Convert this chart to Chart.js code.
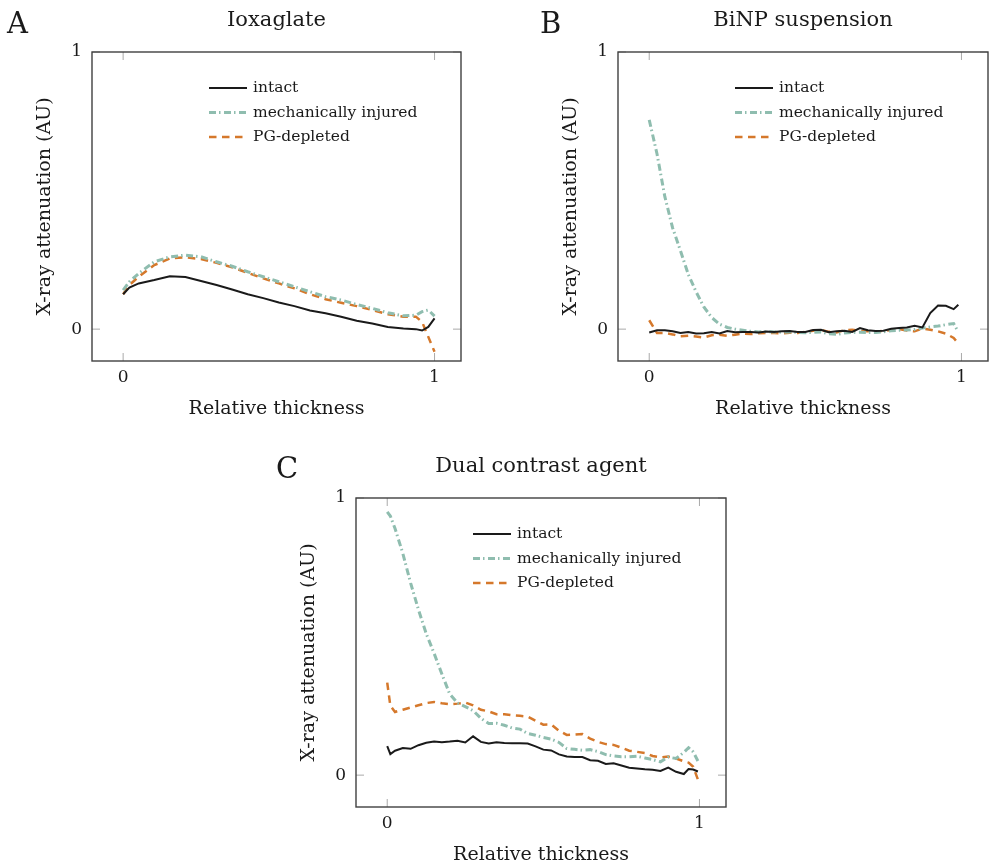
<!DOCTYPE html>
<html>
<head>
<meta charset="utf-8">
<script src="https://cdn.jsdelivr.net/npm/chart.js@4.4.1/dist/chart.umd.min.js"></script>
<style>
  body { margin: 0; width: 990px; height: 867px; overflow: hidden; background: #fff; position: relative; }
  canvas { position: absolute; }
</style>
</head>
<body>
<canvas id="chartA" width="490" height="430" style="left:0;top:0"></canvas>
<canvas id="chartB" width="464" height="430" style="left:526px;top:0"></canvas>
<canvas id="chartC" width="490" height="430" style="left:264px;top:446px"></canvas>
<script>
// ---- data ----
const seriesLabels = ["intact", "mechanically injured", "PG-depleted"];
const xTicks = [0, 1];
const yTicks = [0, 1];

// A: Ioxaglate
const ioxX = [0, 0.02, 0.05, 0.1, 0.15, 0.2, 0.25, 0.3, 0.35, 0.4, 0.45, 0.5, 0.55, 0.6, 0.65, 0.7, 0.75, 0.8, 0.85, 0.9, 0.94, 0.96, 0.98, 1.0];
const ioxIntact = [0.126, 0.150, 0.165, 0.177, 0.191, 0.188, 0.174, 0.159, 0.143, 0.126, 0.112, 0.096, 0.083, 0.067, 0.057, 0.045, 0.030, 0.020, 0.008, 0.002, 0.000, -0.005, 0.008, 0.039];
const ioxInjured = [0.141, 0.171, 0.201, 0.243, 0.261, 0.267, 0.261, 0.243, 0.227, 0.207, 0.189, 0.171, 0.153, 0.135, 0.117, 0.105, 0.089, 0.075, 0.059, 0.048, 0.050, 0.063, 0.069, 0.047];
const ioxDepleted = [0.126, 0.159, 0.189, 0.231, 0.255, 0.259, 0.253, 0.239, 0.223, 0.203, 0.183, 0.165, 0.147, 0.126, 0.108, 0.095, 0.083, 0.069, 0.054, 0.045, 0.045, 0.026, -0.028, -0.082];

// B: BiNP suspension
const binpX = [0, 0.025, 0.05, 0.075, 0.1, 0.125, 0.15, 0.175, 0.2, 0.225, 0.25, 0.275, 0.3, 0.325, 0.35, 0.375, 0.4, 0.425, 0.45, 0.475, 0.5,
  0.525, 0.55, 0.575, 0.6, 0.625, 0.65, 0.675, 0.7, 0.725, 0.75, 0.775, 0.8, 0.825, 0.85, 0.875, 0.9, 0.925, 0.95, 0.975, 0.99];
const binpIntact = [-0.012, -0.004, -0.004, -0.008, -0.014, -0.010, -0.016, -0.015, -0.010, -0.016, -0.007, -0.011, -0.010, -0.010, -0.012, -0.009, -0.010, -0.008, -0.007, -0.010, -0.010,
  -0.003, -0.002, -0.011, -0.008, -0.006, -0.010, 0.004, -0.004, -0.007, -0.006, 0.001, 0.004, 0.006, 0.012, 0.006, 0.058, 0.085, 0.084, 0.072, 0.088];
const binpInjured = [0.755, 0.632, 0.478, 0.365, 0.283, 0.198, 0.135, 0.080, 0.042, 0.018, 0.006, 0.000, -0.004, -0.008, -0.010, -0.009, -0.010, -0.011, -0.010, -0.012, -0.013,
  -0.012, -0.010, -0.017, -0.019, -0.014, -0.012, -0.011, -0.012, -0.012, -0.010, -0.006, -0.004, -0.003, -0.001, 0.004, 0.008, 0.011, 0.016, 0.020, -0.010];
const binpDepleted = [0.032, -0.014, -0.014, -0.019, -0.026, -0.024, -0.027, -0.030, -0.022, -0.020, -0.024, -0.020, -0.016, -0.018, -0.015, -0.014, -0.014, -0.015, -0.013, -0.014, -0.010,
  -0.006, -0.004, -0.009, -0.012, -0.004, -0.002, -0.006, -0.008, -0.009, -0.006, -0.004, 0.000, -0.005, -0.008, 0.002, -0.002, -0.008, -0.016, -0.032, -0.052];

// C: Dual contrast agent
const dualX = [0, 0.01, 0.025, 0.05, 0.075, 0.1, 0.125, 0.15, 0.175, 0.2, 0.225, 0.25, 0.275, 0.3, 0.325, 0.35, 0.375, 0.4, 0.425, 0.45, 0.475, 0.5,
  0.525, 0.55, 0.575, 0.6, 0.625, 0.65, 0.675, 0.7, 0.725, 0.75, 0.775, 0.8, 0.825, 0.85, 0.875, 0.9, 0.925, 0.95, 0.965, 0.98, 0.995];
const dualIntact = [0.105, 0.076, 0.088, 0.098, 0.095, 0.108, 0.117, 0.121, 0.119, 0.121, 0.124, 0.118, 0.140, 0.120, 0.114, 0.119, 0.116, 0.115, 0.115, 0.114, 0.104, 0.092,
  0.089, 0.075, 0.067, 0.065, 0.065, 0.054, 0.052, 0.040, 0.043, 0.035, 0.027, 0.024, 0.021, 0.019, 0.015, 0.027, 0.012, 0.004, 0.022, 0.020, 0.013];
const dualInjured = [0.950, 0.935, 0.890, 0.800, 0.693, 0.597, 0.510, 0.440, 0.365, 0.293, 0.260, 0.247, 0.233, 0.205, 0.186, 0.187, 0.180, 0.170, 0.166, 0.150, 0.144, 0.136,
  0.130, 0.118, 0.096, 0.093, 0.090, 0.092, 0.085, 0.074, 0.069, 0.066, 0.066, 0.068, 0.062, 0.056, 0.048, 0.065, 0.060, 0.082, 0.099, 0.084, 0.051];
const dualDepleted = [0.334, 0.250, 0.228, 0.236, 0.244, 0.252, 0.260, 0.264, 0.259, 0.256, 0.258, 0.262, 0.252, 0.236, 0.230, 0.220, 0.220, 0.216, 0.214, 0.211, 0.196, 0.182,
  0.183, 0.160, 0.145, 0.146, 0.148, 0.132, 0.120, 0.112, 0.109, 0.099, 0.088, 0.084, 0.080, 0.069, 0.064, 0.067, 0.060, 0.050, 0.045, 0.030, -0.016];

// ---- styling ----
const FONT = "'DejaVu Serif', serif";
const TEXT = "#1a1a1a";
const styles = [
  { borderColor: "#1a1a1a", borderWidth: 2, borderDash: [] },
  { borderColor: "#8fbdaf", borderWidth: 3, borderDash: [7, 3, 1.5, 3.5] },
  { borderColor: "#d5782b", borderWidth: 2.5, borderDash: [7.5, 5.5] },
];

const pts = (xs, ys) => xs.map((x, i) => ({ x: x, y: ys[i] }));

// box around the plot with little inward ticks, like pgfplots
const framePlugin = {
  id: "frame",
  afterDatasetsDraw(chart) {
    const { ctx, chartArea: a, scales } = chart;
    ctx.save();
    ctx.strokeStyle = "#aaaaaa";
    ctx.lineWidth = 1;
    const t = 8;
    xTicks.forEach((v) => {
      const px = scales.x.getPixelForValue(v);
      ctx.beginPath();
      ctx.moveTo(px, a.bottom); ctx.lineTo(px, a.bottom - t);
      ctx.moveTo(px, a.top); ctx.lineTo(px, a.top + t);
      ctx.stroke();
    });
    yTicks.forEach((v) => {
      const py = scales.y.getPixelForValue(v);
      ctx.beginPath();
      ctx.moveTo(a.left, py); ctx.lineTo(a.left + t, py);
      ctx.moveTo(a.right, py); ctx.lineTo(a.right - t, py);
      ctx.stroke();
    });
    ctx.strokeStyle = "#404040";
    ctx.lineWidth = 1.4;
    ctx.strokeRect(a.left, a.top, a.right - a.left, a.bottom - a.top);
    ctx.restore();
  },
};

// legend drawn inside the plot area, no box
const innerLegend = {
  id: "innerLegend",
  afterDraw(chart) {
    const { ctx, chartArea: a } = chart;
    ctx.save();
    ctx.font = "15.5px " + FONT;
    ctx.textBaseline = "middle";
    ctx.fillStyle = TEXT;
    chart.data.datasets.forEach((ds, i) => {
      const y = a.top + 36 + i * 24.5;
      const x0 = a.left + 117;
      ctx.beginPath();
      ctx.strokeStyle = ds.borderColor;
      ctx.lineWidth = ds.borderWidth;
      ctx.setLineDash(ds.borderDash);
      ctx.moveTo(x0, y);
      ctx.lineTo(x0 + 38, y);
      ctx.stroke();
      ctx.setLineDash([]);
      ctx.fillText(ds.label, x0 + 44, y);
    });
    ctx.restore();
  },
};

const panelLetter = {
  id: "panelLetter",
  afterDraw(chart, args, opts) {
    const ctx = chart.ctx;
    ctx.save();
    ctx.font = "29px " + FONT;
    ctx.fillStyle = TEXT;
    ctx.textBaseline = "alphabetic";
    ctx.fillText(opts.text, opts.x, opts.y);
    ctx.restore();
  },
};

function makePanel(id, title, letter, xs, ys, padRight) {
  const datasets = ys.map((vals, i) => ({
    label: seriesLabels[i],
    data: pts(xs, vals),
    borderColor: styles[i].borderColor,
    borderWidth: styles[i].borderWidth,
    borderDash: styles[i].borderDash,
    pointRadius: 0,
    tension: 0,
    fill: false,
  }));
  return new Chart(document.getElementById(id), {
    type: "line",
    data: { datasets: datasets },
    options: {
      responsive: false,
      animation: false,
      devicePixelRatio: 1,
      layout: { padding: { left: 0, right: padRight, top: 0, bottom: 0 } },
      scales: {
        x: {
          type: "linear",
          min: -0.1,
          max: 1.085,
          afterBuildTicks: (s) => { s.ticks = xTicks.map((v) => ({ value: v })); },
          afterFit: (s) => { s.height = 69; },
          grid: { display: false, drawTicks: false },
          border: { display: false },
          ticks: { color: TEXT, padding: 6, font: { family: FONT, size: 17 } },
          title: { display: true, text: "Relative thickness", color: TEXT, padding: { top: 0, bottom: 9.6 }, font: { family: FONT, size: 19 } },
        },
        y: {
          min: -0.115,
          max: 1,
          afterBuildTicks: (s) => { s.ticks = yTicks.map((v) => ({ value: v })); },
          afterFit: (s) => { s.width = 92; },
          grid: { display: false, drawTicks: false },
          border: { display: false },
          ticks: { color: TEXT, padding: 10, font: { family: FONT, size: 17 } },
          title: { display: true, text: "X-ray attenuation (AU)", color: TEXT, padding: { top: 33.6, bottom: 0 }, font: { family: FONT, size: 19 } },
        },
      },
      plugins: {
        legend: { display: false },
        tooltip: { enabled: false },
        title: {
          display: true,
          text: title,
          fullSize: false,
          color: TEXT,
          padding: { top: 8, bottom: 18.8 },
          font: { family: FONT, size: 21, weight: "normal" },
        },
        panelLetter: letter,
      },
    },
    plugins: [framePlugin, innerLegend, panelLetter],
  });
}

makePanel("chartA", "Ioxaglate", { text: "A", x: 7, y: 33 }, ioxX, [ioxIntact, ioxInjured, ioxDepleted], 29);
makePanel("chartB", "BiNP suspension", { text: "B", x: 14, y: 33 }, binpX, [binpIntact, binpInjured, binpDepleted], 2);
makePanel("chartC", "Dual contrast agent", { text: "C", x: 12, y: 32 }, dualX, [dualIntact, dualInjured, dualDepleted], 28);
</script>
</body>
</html>
